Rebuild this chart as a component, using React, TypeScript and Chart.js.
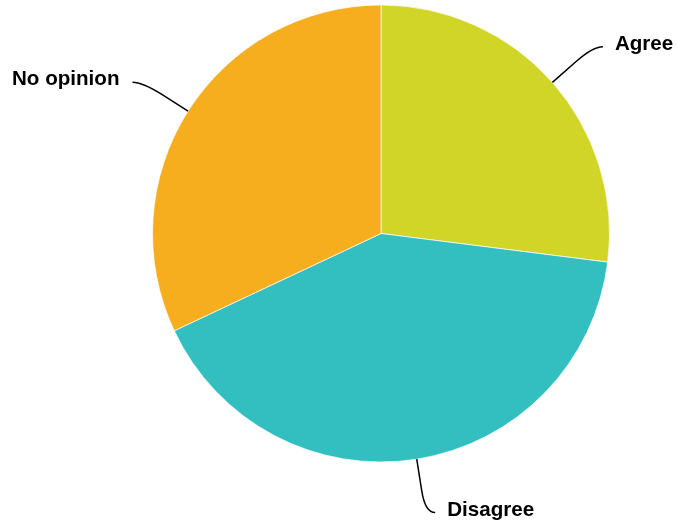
import React, { useEffect, useRef } from "react";
import { Chart, registerables } from "chart.js";

Chart.register(...registerables);

const categories = ["Agree", "Disagree", "No opinion"];
const values = [27, 41, 32];
const colors = ["#D0D528", "#33BEC0", "#F7AE1E"];

const leaderPlugin = {
  id: "leaderLabels",
  afterDatasetsDraw(chart: any) {
    const ctx = chart.ctx;
    const meta = chart.getDatasetMeta(0);
    ctx.save();
    ctx.strokeStyle = "#000";
    ctx.lineWidth = 1.5;
    ctx.fillStyle = "#000";
    ctx.font = "bold 20.6px 'Liberation Sans', Arial, sans-serif";
    ctx.textBaseline = "middle";
    meta.data.forEach((arc: any, i: number) => {
      const { x, y, startAngle, endAngle, outerRadius } = arc.getProps(
        ["x", "y", "startAngle", "endAngle", "outerRadius"],
        true
      );
      const mid = (startAngle + endAngle) / 2;
      const cos = Math.cos(mid);
      const sin = Math.sin(mid);
      const r = outerRadius;
      const ex = x + r * cos;
      const ey = y + r * sin;
      const rr = r + 54;
      const kx = x + rr * cos;
      const ky = y + rr * sin;
      const bx = x + (rr - 22) * cos;
      const by = y + (rr - 22) * sin;
      const right = cos >= 0;
      const endX = kx + (right ? 10 : -10);
      ctx.beginPath();
      ctx.moveTo(ex, ey);
      ctx.lineTo(bx, by);
      ctx.quadraticCurveTo(kx, ky, endX, ky);
      ctx.stroke();
      ctx.textAlign = right ? "left" : "right";
      ctx.fillText(categories[i], endX + (right ? 12 : -13), ky - 2.5);
    });
    ctx.restore();
  },
};

export default function App() {
  const ref = useRef<HTMLCanvasElement>(null);
  useEffect(() => {
    if (!ref.current) return;
    const chart = new Chart(ref.current, {
      type: "pie",
      data: {
        labels: categories,
        datasets: [
          {
            data: values,
            backgroundColor: colors,
            borderColor: "rgba(255,255,255,0.7)",
            borderWidth: 1,
          },
        ],
      },
      options: {
        animation: false,
        responsive: true,
        maintainAspectRatio: false,
        layout: { padding: { left: 152, right: 67, top: 4, bottom: 62 } },
        plugins: {
          legend: { display: false },
          tooltip: { enabled: false },
        },
      },
      plugins: [leaderPlugin],
    });
    return () => chart.destroy();
  }, []);
  return (
    <div style={{ position: "fixed", left: 0, top: 0, width: 677, height: 525 }}>
      <canvas ref={ref} />
    </div>
  );
}
